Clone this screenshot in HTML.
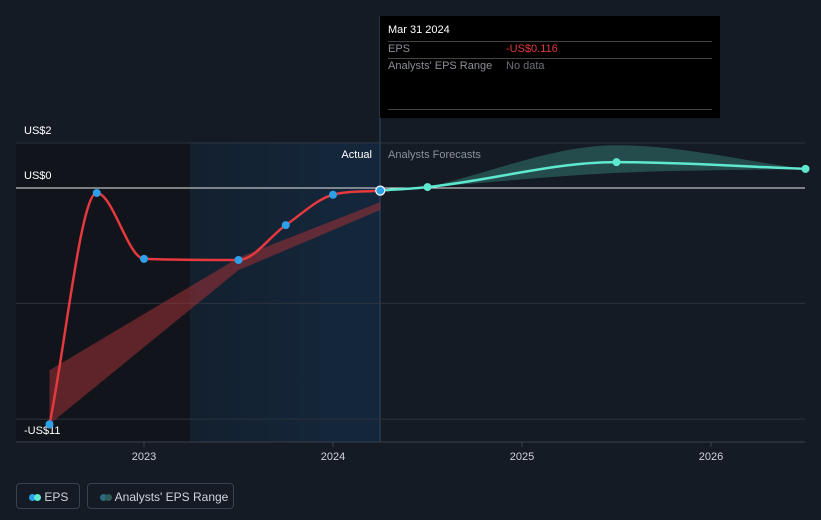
<!DOCTYPE html>
<html><head><meta charset="utf-8"><style>
body{margin:0;width:821px;height:520px;background:#151b24;font-family:"Liberation Sans",sans-serif;overflow:hidden;position:relative}
svg{position:absolute;left:0;top:0}
.tt{position:absolute;left:380px;top:16px;width:340px;height:102px;background:#000;font-size:11px}
.legend{position:absolute;top:483px;height:26px;border:1px solid #3a4150;border-radius:4px;color:#d0d4da;font-size:12px;line-height:26px;box-sizing:border-box}
</style></head><body>
<svg width="821" height="520">
<defs>
<linearGradient id="fc" x1="0" x2="1"><stop offset="0" stop-color="#13202e"/><stop offset="0.75" stop-color="#14263a"/><stop offset="1" stop-color="#13263b"/></linearGradient>
</defs>
<rect x="16" y="142" width="174" height="300" fill="#11151b"/>
<rect x="190" y="142" width="190" height="300" fill="url(#fc)"/>
<line x1="380" y1="16" x2="380" y2="442" stroke="#2a4a66" stroke-width="1"/>
<g id="grid"></g>
<g id="bands"></g>
<g id="lines"></g>
<g id="pts"></g>
<text x="372" y="158" fill="#fff" font-size="11" text-anchor="end">Actual</text>
<text x="388" y="158" fill="#8a9099" font-size="11">Analysts Forecasts</text>
</svg>
<div class="tt">
<div style="position:absolute;left:8px;top:8px;color:#fff;font-size:11px">Mar 31 2024</div>
<div style="position:absolute;left:8px;right:8px;top:25px;border-top:1px solid #444"></div>
<div style="position:absolute;left:8px;top:27px;color:#8a8f96">EPS</div>
<div style="position:absolute;left:126px;top:27px;color:#e0393e">-US$0.116</div>
<div style="position:absolute;left:8px;right:8px;top:42px;border-top:1px solid #444"></div>
<div style="position:absolute;left:8px;top:44px;color:#8a8f96">Analysts' EPS Range</div>
<div style="position:absolute;left:126px;top:44px;color:#6b7078">No data</div>
<div style="position:absolute;left:8px;right:8px;top:93px;border-top:1px solid #444"></div>
</div>
<div class="legend" style="left:16px;width:64px"><span style="display:inline-block;width:7px;height:7px;border-radius:50%;background:#2ca0e8;margin-left:12px"></span><span style="display:inline-block;width:7px;height:7px;border-radius:50%;background:#5ee8d0;margin-left:-2px"></span> EPS</div>
<div class="legend" style="left:87px;width:147px"><span style="display:inline-block;width:7px;height:7px;border-radius:50%;background:#2d6a80;margin-left:12px"></span><span style="display:inline-block;width:7px;height:7px;border-radius:50%;background:#2e5a5a;margin-left:-2px"></span> Analysts' EPS Range</div>
<script>
const actualDates=[2022.5,2022.75,2023.0,2023.5,2023.75,2024.0,2024.25];
const actualEps=[-10.5,-0.22,-3.15,-3.2,-1.65,-0.3,-0.116];
const forecastDates=[2024.25,2024.5,2025.5,2026.5];
const forecastEps=[-0.116,0.04,1.15,0.85];
const pastRangeDates=[2022.5,2023.5,2024.25];
const pastRangeLow=[-10.5,-3.65,-0.98];
const pastRangeHigh=[-8.1,-3.1,-0.63];
const fcRangeDates=[2024.5,2025.5,2026.5];
const fcRangeLow=[0.04,0.67,0.85];
const fcRangeHigh=[0.04,1.9,0.85];
const yTickValues=[2,0,-5.13,-10.27];
const yTickLabels=["US$2","US$0","",""];
const xTicks=[2023,2024,2025,2026];
const NS="http://www.w3.org/2000/svg";
const X=d=>144+(d-2023)*189;
const Y=v=>188-v*22.5;
function mk(tag,attrs,parent){const e=document.createElementNS(NS,tag);for(const k in attrs)e.setAttribute(k,attrs[k]);document.getElementById(parent).appendChild(e);return e;}
function mono(pts,noMove){
const n=pts.length,dx=[],s=[],m=[];
for(let i=0;i<n-1;i++){dx[i]=pts[i+1][0]-pts[i][0];s[i]=(pts[i+1][1]-pts[i][1])/dx[i];}
m[0]=s[0];m[n-1]=s[n-2];
for(let i=1;i<n-1;i++){m[i]=(s[i-1]*s[i]<=0)?0:(s[i-1]+s[i])/2;
const a=m[i]/s[i-1],b=m[i]/s[i];if(a*a+b*b>9){const t=3/Math.sqrt(a*a+b*b);m[i]=t*(s[i-1]+s[i])/2;}}
let d=noMove?"":"M"+pts[0][0]+","+pts[0][1];
for(let i=0;i<n-1;i++){const h=dx[i]/3;
d+=" C"+(pts[i][0]+h)+","+(pts[i][1]+m[i]*h)+" "+(pts[i+1][0]-h)+","+(pts[i+1][1]-m[i+1]*h)+" "+pts[i+1][0]+","+pts[i+1][1];}
return d;}
yTickValues.forEach((v,i)=>{
const l=mk("line",{x1:16,x2:805,y1:Y(v),y2:Y(v),stroke:v===0?"#e8e8e8":"#2c333d","stroke-width":1},"grid");


if(yTickLabels[i]){const t=mk("text",{x:24,y:Y(v)-9,fill:"#fff","font-size":11},"grid");t.textContent=yTickLabels[i];

}
});
const bt=mk("text",{x:24,y:434,fill:"#fff","font-size":11},"grid");bt.textContent="-US$11";


mk("line",{x1:16,x2:805,y1:442,y2:442,stroke:"#3a414b"},"grid");
xTicks.forEach(d=>{mk("line",{x1:X(d),x2:X(d),y1:442,y2:447,stroke:"#3a414b"},"grid");
const t=mk("text",{x:X(d),y:460,fill:"#d0d4da","font-size":11,"text-anchor":"middle"},"grid");t.textContent=d;

});
function band(dates,lo,hi,fill,name,sm){
const top=dates.map((d,i)=>[X(d),Y(hi[i])]);const bot=dates.map((d,i)=>[X(d),Y(lo[i])]).reverse();
let d;
if(sm){d=mono(top)+" L"+bot[0][0]+","+bot[0][1]+mono(bot.slice().reverse()).replace(/^M[^ ]+/,"M"+bot[bot.length-1].join(","));
d=mono(top)+" L"+bot[0][0]+","+bot[0][1];
const rb=mono(bot.slice().reverse());/* build reversed by re-computing on reversed order */
const rev=bot.map(p=>[-p[0],p[1]]);const rp=mono(rev,true).replace(/-(\d+(\.\d+)?),/g,"$1,");
d+=rp;}
else d="M"+top.concat(bot).map(p=>p.join(",")).join(" L");
const p=mk("path",{d:d+"Z",fill:fill},"bands");

}
band(pastRangeDates,pastRangeLow,pastRangeHigh,"rgba(160,50,55,0.55)","past-eps-range",false);
band(fcRangeDates,fcRangeLow,fcRangeHigh,"rgba(70,170,155,0.35)","forecast-eps-range",true);
const a=mk("path",{d:mono(actualDates.map((d,i)=>[X(d),Y(actualEps[i])])),fill:"none",stroke:"#e5393e","stroke-width":2.5},"lines");


const f=mk("path",{d:mono(forecastDates.map((d,i)=>[X(d),Y(forecastEps[i])])),fill:"none",stroke:"#5ee8d0","stroke-width":2.5},"lines");


actualDates.forEach((d,i)=>{const last=i===actualDates.length-1;
const c=mk("circle",{cx:X(d),cy:Y(actualEps[i]),r:last?4.5:4,fill:"#2ca0e8",stroke:last?"#fff":"none","stroke-width":1.2},"pts");

});
forecastDates.slice(1).forEach((d,i)=>{
const c=mk("circle",{cx:X(d),cy:Y(forecastEps[i+1]),r:4,fill:"#5ee8d0"},"pts");

});
</script>
</body></html>
